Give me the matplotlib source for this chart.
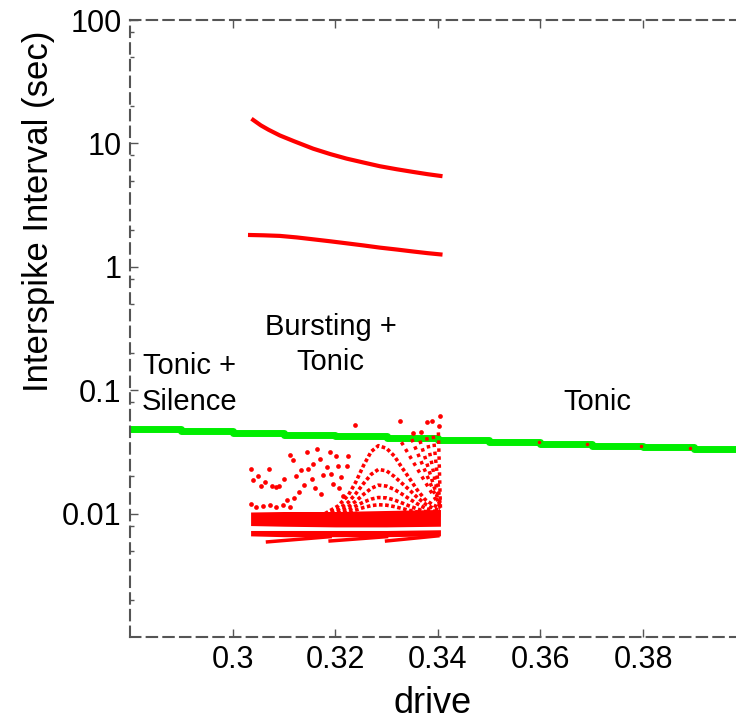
import numpy as np
import matplotlib.pyplot as plt
from matplotlib.ticker import LogLocator, FixedLocator, NullFormatter

plt.rcParams['font.family'] = ['Liberation Sans', 'DejaVu Sans']

# long-interval branches (bursting regime)
upper_x = [0.3040, 0.3055, 0.3070, 0.3092, 0.3120, 0.3157, 0.3190, 0.3222,
           0.3255, 0.3287, 0.3320, 0.3352, 0.3380, 0.3405]
upper_y = [15.5, 14.0, 12.9, 11.6, 10.4, 9.06, 8.2, 7.53, 7.0, 6.53, 6.17, 5.87,
           5.63, 5.45]
lower_x = [0.3034, 0.3060, 0.3092, 0.3125, 0.3157, 0.3190, 0.3222, 0.3255,
           0.3287, 0.3320, 0.3352, 0.3380, 0.3405]
lower_y = [1.81, 1.80, 1.78, 1.73, 1.67, 1.61, 1.55, 1.49, 1.43, 1.38, 1.33,
           1.29, 1.26]

# tonic branch (green)
tonic_x = [0.28, 0.29, 0.30, 0.31, 0.32, 0.33, 0.34, 0.35, 0.36, 0.37, 0.38, 0.39, 0.40]
tonic_y = [0.0485, 0.0468, 0.0452, 0.0437, 0.0422, 0.0408, 0.0396, 0.0383,
           0.0368, 0.0356, 0.0344, 0.0333, 0.0322]
tonic_red_x = [0.3597, 0.3691, 0.3796, 0.3892]
tonic_red_y = [0.0380, 0.0367, 0.0353, 0.0342]

# dense intra-burst band
band_x = [0.3035, 0.310, 0.320, 0.330, 0.3405]
band_hi = [0.0103, 0.0104, 0.0104, 0.0106, 0.0108]
band_lo = [0.0080, 0.0079, 0.0078, 0.0078, 0.0079]
band2_hi = [0.0073, 0.0073, 0.0073, 0.0073, 0.0074]
band2_lo = [0.0066, 0.0065, 0.0065, 0.0065, 0.0066]

# thin slanted streaks just below the band
streak_x = [[0.3068, 0.3190], [0.3190, 0.3300], [0.3300, 0.3400]]
streak_y = [[0.0059, 0.0065], [0.0060, 0.0065], [0.0060, 0.0066]]

# arches
arch_x = [0.3180, 0.3205, 0.3225, 0.3240, 0.3255, 0.3270, 0.3284, 0.3300,
          0.3315, 0.3330, 0.3345, 0.3360, 0.3375, 0.3390, 0.3405]
arch_y = [
    [0.0100, 0.0115, 0.0140, 0.0180, 0.0245, 0.0318, 0.0355, 0.0338, 0.0293,
     0.0236, 0.0192, 0.0155, 0.0130, 0.0118, 0.0110],
    [0.0099, 0.0108, 0.0123, 0.0145, 0.0175, 0.0208, 0.0228, 0.0222, 0.0200,
     0.0176, 0.0155, 0.0135, 0.0120, 0.0111, 0.0106],
    [0.0098, 0.0104, 0.0113, 0.0126, 0.0143, 0.0160, 0.0170, 0.0167, 0.0157,
     0.0144, 0.0131, 0.0120, 0.0111, 0.0105, 0.0102],
    [0.0097, 0.0101, 0.0107, 0.0115, 0.0124, 0.0131, 0.0135, 0.0134, 0.0129,
     0.0122, 0.0115, 0.0109, 0.0104, 0.0101, 0.0099],
    [0.0096, 0.0099, 0.0103, 0.0107, 0.0112, 0.0116, 0.0118, 0.0117, 0.0114,
     0.0110, 0.0106, 0.0103, 0.0100, 0.0098, 0.0097],
]

# rays converging at the right end of the bursting window
ray_end = (0.3405, 0.0112)
ray_top_x = [0.3329, 0.3349, 0.3365, 0.3378, 0.3391, 0.3401]
ray_top_y = [0.0379, 0.0402, 0.0390, 0.0416, 0.0428, 0.0455]

# scattered isolated intervals
dots_x = [0.3036, 0.3071, 0.3040, 0.3049, 0.3056, 0.3064, 0.3077, 0.3085, 0.3091,
          0.3101, 0.3111, 0.3118, 0.3124, 0.3134, 0.3144, 0.3147, 0.3154, 0.3157,
          0.3165, 0.3170, 0.3176, 0.3183, 0.3189, 0.3192, 0.3202, 0.3205, 0.3212,
          0.3225, 0.3223, 0.3238, 0.3326, 0.3351, 0.3367, 0.3378, 0.3388, 0.3404,
          0.3403, 0.3036, 0.3046, 0.3059, 0.3072, 0.3085, 0.3098, 0.3111,
          0.3130, 0.3140, 0.3160, 0.3172, 0.3195, 0.3208, 0.3215, 0.3120, 0.3105]
dots_y = [0.0231, 0.0231, 0.0186, 0.0201, 0.0167, 0.0180, 0.0167, 0.0164, 0.0167,
          0.0192, 0.0299, 0.0272, 0.0201, 0.0224, 0.0318, 0.0231, 0.0192, 0.0253,
          0.0334, 0.0278, 0.0204, 0.0238, 0.0314, 0.0210, 0.0295, 0.0245, 0.0198,
          0.0295, 0.0245, 0.0522, 0.0566, 0.0450, 0.0461, 0.0548, 0.0566, 0.0621,
          0.0515, 0.0120, 0.0113, 0.0115, 0.0117, 0.0113, 0.0117, 0.0113,
          0.0150, 0.0170, 0.0160, 0.0145, 0.0175, 0.0160, 0.0140, 0.0135, 0.0130]

red = '#ff0000'
green = '#00ee00'
spine_col = '#555555'

fig = plt.figure(figsize=(7.36, 7.23), dpi=100)
ax = fig.add_axes([130 / 736, 86 / 723, 1 - 130 / 736, 617 / 723])

ax.plot(tonic_x, tonic_y, color=green, lw=5, drawstyle='steps-post', zorder=2)

ax.fill_between(band_x, band_lo, band_hi, color=red, lw=0, zorder=3)
ax.fill_between(band_x, band2_lo, band2_hi, color=red, lw=0, zorder=3)
for sx, sy in zip(streak_x, streak_y):
    ax.plot(sx, sy, color=red, lw=2.5, zorder=3)

for ay in arch_y:
    ax.plot(arch_x, ay, color=red, lw=2.6, ls=(0, (1, 0.7)), zorder=3)
for tx, ty in zip(ray_top_x, ray_top_y):
    ax.plot([tx, ray_end[0]], [ty, ray_end[1]], color=red, lw=2.5,
            ls=(0, (1, 1.3)), zorder=3)
ax.plot(dots_x, dots_y, ls='none', marker='o', ms=3.4, color=red, mec='none', zorder=4)
ax.plot(tonic_red_x, tonic_red_y, ls='none', marker='o', ms=2.5, color=red,
        mec='none', zorder=4)

ax.plot(upper_x, upper_y, color=red, lw=3, solid_joinstyle='round', zorder=3)
ax.plot(lower_x, lower_y, color=red, lw=3, solid_joinstyle='round', zorder=3)

ax.set_yscale('log')
ax.set_xlim(0.28, 0.3981)
ax.set_ylim(0.001, 100)

ax.xaxis.set_major_locator(FixedLocator([0.30, 0.32, 0.34, 0.36, 0.38]))
ax.set_xticklabels(['0.3', '0.32', '0.34', '0.36', '0.38'])
ax.yaxis.set_major_locator(FixedLocator([0.01, 0.1, 1, 10, 100]))
ax.set_yticklabels(['0.01', '0.1', '1', '10', '100'])
ax.yaxis.set_minor_locator(LogLocator(base=10, subs=[2, 5, 8]))
ax.yaxis.set_minor_formatter(NullFormatter())
ax.tick_params(axis='both', which='major', direction='in', length=6, width=1,
               color=spine_col, labelsize=22, pad=6, top=True)
ax.tick_params(axis='y', which='minor', direction='in', length=3, width=1,
               color=spine_col)
ax.tick_params(axis='x', which='minor', bottom=False, top=False)

for side in ['left', 'bottom', 'top']:
    ax.spines[side].set_color(spine_col)
    ax.spines[side].set_linestyle((0, (5, 3)))
    ax.spines[side].set_linewidth(1.5)
ax.spines['right'].set_visible(False)

ax.set_xlabel('drive', fontsize=26, labelpad=8)
ax.set_ylabel('Interspike Interval (sec)', fontsize=25)
ax.yaxis.set_label_coords(-0.124, 0.69)

ax.text(0.2916, 0.112, 'Tonic +\nSilence', fontsize=21, ha='center', va='center',
        linespacing=1.35)
ax.text(0.3191, 0.235, 'Bursting +\nTonic', fontsize=21, ha='center', va='center',
        linespacing=1.35)
ax.text(0.3710, 0.080, 'Tonic', fontsize=21, ha='center', va='center')

fig.savefig('out.png', dpi=100)
